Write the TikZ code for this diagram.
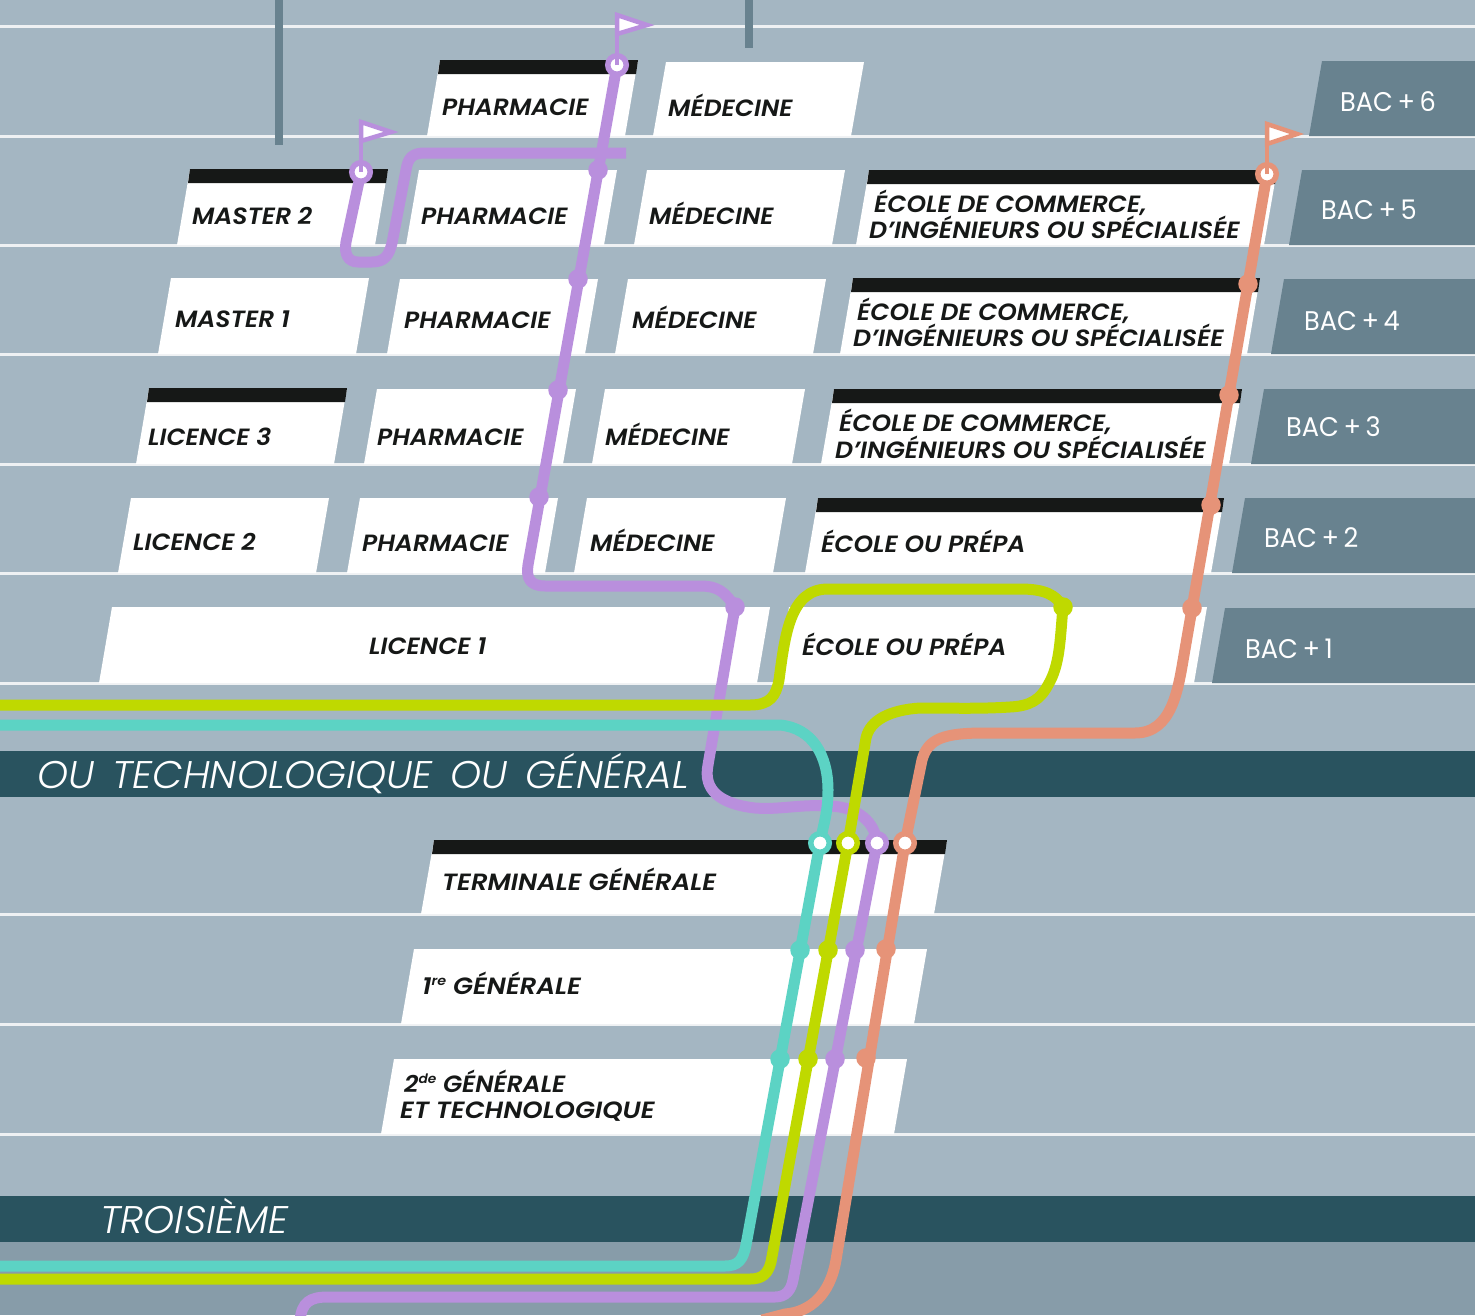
\documentclass[tikz,border=0pt]{standalone}
\usepackage{fontspec}
\setmainfont{Poppins}
\newfontfamily\labfont[FakeStretch=1.06]{Poppins SemiBold Italic}
\newfontfamily\labwide[FakeStretch=1.105]{Poppins SemiBold Italic}
\newfontfamily\labmid[FakeStretch=1.07]{Poppins SemiBold Italic}
\newfontfamily\bandfont[FakeStretch=1.025]{Poppins Light Italic}
\newfontfamily\bacfont[FakeStretch=0.95]{Poppins}
\definecolor{bgc}{HTML}{A4B6C2}
\definecolor{lowc}{HTML}{879CA9}
\definecolor{bandc}{HTML}{29535F}
\definecolor{bacc}{HTML}{68828F}
\definecolor{inkc}{HTML}{161817}
\definecolor{purc}{HTML}{B98FDD}
\definecolor{grec}{HTML}{BFD900}
\definecolor{teac}{HTML}{5CD3C4}
\definecolor{salc}{HTML}{E69378}
\definecolor{rulec}{HTML}{EEF1F3}
\tikzset{
 lab/.style={anchor=base west,inner sep=0pt,text=inkc,font=\labfont\fontsize{23.5}{26}\selectfont},
 labw/.style={anchor=base west,inner sep=0pt,text=inkc,font=\labwide\fontsize{23.5}{26}\selectfont},
 labm/.style={anchor=base west,inner sep=0pt,text=inkc,font=\labmid\fontsize{23.5}{26}\selectfont},
 bac/.style={anchor=base west,inner sep=0pt,text=white,font=\bacfont\fontsize{27}{30}\selectfont},
 bandtxt/.style={anchor=base west,inner sep=0pt,text=white,font=\bandfont\fontsize{38.5}{40}\selectfont},
 route/.style={line width=11pt,line join=round},
 stem/.style={line width=4.5pt},
 dot/.style={circle,inner sep=0pt,minimum size=19.5pt,fill=#1},
 ring/.style={circle,inner sep=0pt,minimum size=18.5pt,line width=5.5pt,draw=#1,fill=white},
 flagtri/.style={draw=#1,fill=white,line width=4.5pt,line join=miter},
}
% x left bottom, x right bottom, y top, y bottom
\newcommand{\wbox}[4]{\fill[white] (#1,#4) -- (#1+13,#3) -- (#2+13,#3) -- (#2,#4) -- cycle;}
\newcommand{\bbox}[4]{\fill[white] (#1,#4) -- (#1+13,#3) -- (#2+13,#3) -- (#2,#4) -- cycle;
 \fill[inkc] (#1+11,#3+14) -- (#1+13,#3) -- (#2+13,#3) -- (#2+11,#3+14) -- cycle;}
\newcommand{\bacbox}[3]{\fill[bacc] (#1,#3) -- (#1+13,#2) -- (1475,#2) -- (1475,#3) -- cycle;}
\newcommand{\supt}[1]{\raisebox{.36em}{\fontsize{13}{13}\selectfont #1}}
\begin{document}
\begin{tikzpicture}[x=1pt,y=-1pt]
\useasboundingbox (0,0) rectangle (1475,1315);
\fill[bgc] (0,0) rectangle (1475,1315);
\fill[lowc] (0,1242) rectangle (1475,1315);
% rules
\foreach \yy in {26.5,136.5,245.5,354.5,464.5,573.5,683.5,914.5,1024.5,1134.5}
  \draw[rulec,line width=2.2pt] (0,\yy) -- (1475,\yy);
% stubs
\fill[bacc] (275,0) rectangle (283,145);
\fill[bacc] (745,0) rectangle (753,48);
% bands
\fill[bandc] (0,751) rectangle (1475,797);
\fill[bandc] (0,1196) rectangle (1475,1242);
% BAC boxes
\bacbox{1309}{61}{136}
\bacbox{1289}{170}{245}
\bacbox{1271}{279}{354}
\bacbox{1251}{389}{464}
\bacbox{1232}{498}{573}
\bacbox{1212}{608}{683}
% row 6
\bbox{427}{625}{60}{136}
\wbox{653}{851}{62}{136}
% row 5
\bbox{177}{375}{169}{245}
\wbox{406}{604}{170}{245}
\wbox{634}{832}{170}{245}
\bbox{856}{1264}{170}{245}
% row 4
\wbox{158}{356}{278}{354}
\wbox{387}{585}{279}{354}
\wbox{615}{813}{279}{354}
\bbox{840}{1247}{278}{354}
% row 3
\bbox{136}{334}{388}{464}
\wbox{364}{563}{389}{464}
\wbox{592}{792}{389}{464}
\bbox{821}{1229}{389}{464}
% row 2
\wbox{118}{316}{498}{573}
\wbox{347}{545}{498}{573}
\wbox{574}{773}{498}{573}
\bbox{805}{1211}{498}{573}
% row 1
\wbox{99}{757}{607}{683}
\wbox{776}{1194}{607}{683}
% lycee
\bbox{421}{934}{840}{914}
\wbox{401}{914}{949}{1024}
\wbox{381}{894}{1059}{1134}
% labels
\node[lab] (p6) at (442,115) {PHARMACIE};
\node[lab] (m6) at (668,116) {MÉDECINE};
\node[lab] (ma2) at (192,224) {MASTER 2};
\node[lab] (p5) at (421,224) {PHARMACIE};
\node[lab] (m5) at (649,224) {MÉDECINE};
\node[lab] (e5a) at (874,212) {ÉCOLE DE COMMERCE,};
\node[labm] (e5b) at (869,238) {D’INGÉNIEURS OU SPÉCIALISÉE};
\node[lab] (ma1) at (175,327) {MASTER 1};
\node[lab] (p4) at (404,328) {PHARMACIE};
\node[lab] (m4) at (632,328) {MÉDECINE};
\node[lab] (e4a) at (857,320) {ÉCOLE DE COMMERCE,};
\node[labm] (e4b) at (853,346) {D’INGÉNIEURS OU SPÉCIALISÉE};
\node[lab] (l3) at (148,445) {LICENCE 3};
\node[lab] (p3) at (377,445) {PHARMACIE};
\node[lab] (m3) at (605,445) {MÉDECINE};
\node[lab] (e3a) at (839,431) {ÉCOLE DE COMMERCE,};
\node[labm] (e3b) at (835,458) {D’INGÉNIEURS OU SPÉCIALISÉE};
\node[lab] (l2) at (133,550) {LICENCE 2};
\node[lab] (p2) at (362,551) {PHARMACIE};
\node[lab] (m2) at (590,551) {MÉDECINE};
\node[lab] (e2) at (821,552) {ÉCOLE OU PRÉPA};
\node[lab] (l1) at (369,654) {LICENCE 1};
\node[lab] (e1) at (802,655) {ÉCOLE OU PRÉPA};
\node[labw] (tg) at (442,890) {TERMINALE GÉNÉRALE};
\node[labw] (pg) at (422,994) {1\supt{re} GÉNÉRALE};
\node[lab] (sg) at (404,1092) {2\supt{de} GÉNÉRALE};
\node[labw] (st) at (400,1118) {ET TECHNOLOGIQUE};
\node[bac] (b6) at (1340,111) {BAC\,+\,6};
\node[bac] (b5) at (1321,219) {BAC\,+\,5};
\node[bac] (b4) at (1304,330) {BAC\,+\,4};
\node[bac] (b3) at (1286,436) {BAC\,+\,3};
\node[bac] (b2) at (1264,547) {BAC\,+\,2};
\node[bac] (b1) at (1245,658) {BAC\,+\,1};
\node[bandtxt] (otg) at (37,788) {OU\hspace{18pt}TECHNOLOGIQUE\hspace{18pt}OU\hspace{18pt}GÉNÉRAL};
\node[bandtxt] (tro) at (100,1233) {TROISIÈME};
% stations
\coordinate (sP) at (877,843);
\coordinate (sT) at (820,843);
\coordinate (sG) at (848,843);
\coordinate (sS) at (905,843);
\coordinate (eP) at (617,65);
\coordinate (eM) at (361,172);
\coordinate (eS) at (1267,174);
% purple
\draw[purc,route] (300,1320) .. controls (302,1302) and (310,1297) .. (328,1297) -- (775,1297)
  .. controls (786,1297) and (791,1290) .. (793,1280) -- (sP)
  .. controls (875,822) and (858,807) .. (830,806)
  .. controls (800,804) and (780,810) .. (755,808)
  .. controls (720,804) and (703,790) .. (708,765)
  -- (735,607)
  .. controls (725,592) and (718,586) .. (700,586) -- (545,586)
  .. controls (530,586) and (526,578) .. (528,565)
  -- (eP);
\draw[purc,route] (626,153) -- (425,153)
  .. controls (412,153) and (408,158) .. (406,170) -- (392,243)
  .. controls (389,256) and (384,262) .. (372,262) -- (358,262)
  .. controls (348,262) and (344,254) .. (346,242) -- (eM);
% teal
\draw[teac,route] (0,725) -- (780,725)
  .. controls (812,728) and (828,755) .. (828,790)
  .. controls (828,812) and (824,822) .. (sT)
  -- (746,1245) .. controls (743,1260) and (738,1266) .. (725,1266) -- (0,1266);
% green
\draw[grec,route] (0,705) -- (750,705)
  .. controls (770,705) and (776,696) .. (779,680)
  .. controls (785,635) and (790,589) .. (828,589) -- (1020,589)
  .. controls (1045,589) and (1056,595) .. (1063,607)
  .. controls (1060,640) and (1060,665) .. (1048,685)
  .. controls (1040,700) and (1030,706) .. (1010,707)
  .. controls (980,709) and (950,708) .. (920,708)
  .. controls (890,710) and (870,720) .. (866,738)
  -- (sG) -- (771,1262) .. controls (768,1274) and (762,1279) .. (750,1279) -- (0,1279);
% salmon
\draw[salc,route] (eS) -- (1184,655)
  .. controls (1178,690) and (1172,733) .. (1135,733)
  -- (985,733) .. controls (945,733) and (928,738) .. (922,760)
  -- (sS) -- (836,1260)
  .. controls (830,1295) and (810,1312) .. (785,1314) -- (762,1320);
% flags
\draw[purc,stem] (eP) -- (617,20);
\draw[flagtri=purc] (617,15) -- (647,25) -- (617,34) -- cycle;
\draw[purc,stem] (eM) -- (361,125);
\draw[flagtri=purc] (361,122) -- (391,132) -- (361,141) -- cycle;
\draw[salc,stem] (eS) -- (1267,128);
\draw[flagtri=salc] (1267,124) -- (1297,134) -- (1267,144) -- cycle;
% dots
\foreach \xx/\yy in {598/170,578/279,558/390,539/497,735/607}
  \node[dot=purc] at (\xx,\yy) {};
\node[dot=grec] at (1063,607) {};
\foreach \xx/\yy in {1248/284,1229/395,1211/505,1192/608,886/949,866/1058}
  \node[dot=salc] at (\xx,\yy) {};
\foreach \xx/\yy in {800/950,780/1059}
  \node[dot=teac] at (\xx,\yy) {};
\foreach \xx/\yy in {828/950,808/1059}
  \node[dot=grec] at (\xx,\yy) {};
\foreach \xx/\yy in {855/950,835/1059}
  \node[dot=purc] at (\xx,\yy) {};
% rings
\node[ring=teac] (rT) at (sT) {};
\node[ring=grec] (rG) at (sG) {};
\node[ring=purc] (rP) at (sP) {};
\node[ring=salc] (rS) at (sS) {};
\node[ring=purc] (rE) at (eP) {};
\draw[purc,stem] (eP) -- +(0,-12);
\node[ring=purc] (rM) at (eM) {};
\draw[purc,stem] (eM) -- +(0,-12);
\node[ring=salc] (rF) at (eS) {};
\draw[salc,stem] (eS) -- +(0,-12);
\end{tikzpicture}
\end{document}
